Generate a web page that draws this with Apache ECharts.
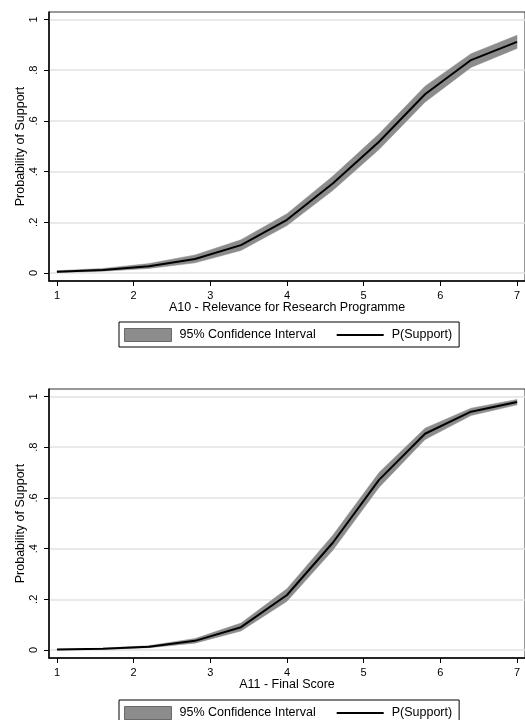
<!DOCTYPE html>
<html><head><meta charset="utf-8">
<script src="https://cdn.jsdelivr.net/npm/echarts@6/dist/echarts.min.js"></script>
<style>html,body{margin:0;padding:0;background:#fff}#c{width:525px;height:720px}</style>
</head><body><div id="c"></div>
<script>
const xValues = [1, 1.6, 2.2, 2.8, 3.4, 4.0, 4.6, 5.2, 5.8, 6.4, 7.0];
const a10Prob  = [0.005, 0.012, 0.027, 0.055, 0.110, 0.210, 0.354, 0.518, 0.705, 0.840, 0.912];
const a10Lower = [0.002, 0.007, 0.018, 0.040, 0.089, 0.187, 0.326, 0.487, 0.674, 0.811, 0.886];
const a10Upper = [0.009, 0.018, 0.037, 0.071, 0.131, 0.234, 0.383, 0.549, 0.737, 0.865, 0.938];
const a11Prob  = [0.002, 0.005, 0.013, 0.036, 0.090, 0.217, 0.424, 0.671, 0.853, 0.940, 0.978];
const a11Lower = [0.001, 0.003, 0.009, 0.027, 0.075, 0.192, 0.394, 0.641, 0.830, 0.925, 0.967];
const a11Upper = [0.003, 0.007, 0.017, 0.045, 0.106, 0.242, 0.454, 0.700, 0.875, 0.954, 0.988];
const xTicks = [1, 2, 3, 4, 5, 6, 7];
const yTicks = [0, 0.2, 0.4, 0.6, 0.8, 1];
const xTitles = ['A10 - Relevance for Research Programme', 'A11 - Final Score'];
const yTitle = 'Probability of Support';
const ciName = '95% Confidence Interval';
const lineName = 'P(Support)';

const FONT = 'Liberation Sans, Arial, sans-serif';
const BAND = '#8c8c8c';
const chart = echarts.init(document.getElementById('c'), null, {renderer: 'canvas'});

function pairs(vals) { return xValues.map((x, i) => [x, vals[i]]); }
function yFmt(v) {
  if (Math.abs(v) < 1e-9) return '0';
  if (Math.abs(v - 1) < 1e-9) return '1';
  return String(Math.round(v * 10) / 10).replace(/^0/, '');
}
function bandRender(params, api) {
  if (params.dataIndex !== 0) return null;
  const n = params.dataInsideLength !== undefined ? params.dataInsideLength : xValues.length;
  const upperPts = [], lowerPts = [];
  for (let k = 0; k < n; k++) {
    const x = api.value(0, k);
    lowerPts.push(api.coord([x, api.value(1, k)]));
    upperPts.push(api.coord([x, api.value(2, k)]));
  }
  const pts = lowerPts.concat(upperPts.reverse());
  return {type: 'polygon', shape: {points: pts},
    style: {fill: BAND, stroke: BAND, lineWidth: 0.5},
    clipPath: {type: 'rect', shape: {x: params.coordSys.x, y: params.coordSys.y,
      width: params.coordSys.width, height: params.coordSys.height}}};
}

const panels = [
  {top: 12, prob: a10Prob, lower: a10Lower, upper: a10Upper, legendTop: 322},
  {top: 389, prob: a11Prob, lower: a11Lower, upper: a11Upper, legendTop: 700}
];

const grid = [], xAxis = [], yAxis = [], series = [], legend = [];
panels.forEach((p, i) => {
  grid.push({left: 49, top: p.top, width: 479.3, height: 269, show: true,
    borderColor: '#333', borderWidth: 1, backgroundColor: '#fff', containLabel: false});
  xAxis.push({type: 'value', gridIndex: i, min: 0.896, max: 7.104,
    name: xTitles[i], nameLocation: 'middle', nameGap: 20, nameMoveOverlap: false,
    nameTextStyle: {fontFamily: FONT, fontSize: 12.5, color: '#000'},
    axisLine: {show: true, onZero: false, lineStyle: {color: '#000', width: 1.5}},
    axisTick: {show: true, length: 5, inside: false, customValues: xTicks, lineStyle: {color: '#000', width: 1}},
    axisLabel: {show: true, customValues: xTicks, margin: 9, fontFamily: FONT, fontSize: 11, color: '#000',
      formatter: v => String(v)},
    splitLine: {show: false}
  });
  yAxis.push({type: 'value', gridIndex: i, min: -0.0316, max: 1.0296,
    name: yTitle, nameLocation: 'middle', nameGap: 22, nameRotate: 90, nameMoveOverlap: false,
    nameTextStyle: {fontFamily: FONT, fontSize: 12.5, color: '#000'},
    axisLine: {show: true, onZero: false, lineStyle: {color: '#000', width: 1.5}},
    axisTick: {show: true, length: 5, inside: false, customValues: yTicks, lineStyle: {color: '#000', width: 1}},
    axisLabel: {show: true, customValues: yTicks, rotate: 90, margin: 10, fontFamily: FONT, fontSize: 11, color: '#000',
      formatter: yFmt},
    splitLine: {show: true, lineStyle: {color: '#e2e2e2', width: 1.5}}
  });
  series.push({type: 'custom', name: ciName, xAxisIndex: i, yAxisIndex: i,
    data: xValues.map((x, k) => [x, p.lower[k], p.upper[k]]),
    encode: {x: 0, y: [1, 2]}, renderItem: bandRender, itemStyle: {color: BAND},
    z: 2, animation: false, silent: true});
  series.push({type: 'line', name: lineName, xAxisIndex: i, yAxisIndex: i,
    data: pairs(p.prob), symbol: 'none', itemStyle: {color: '#000'},
    lineStyle: {color: '#000', width: 2}, z: 3, animation: false});
  legend.push({orient: 'horizontal', left: 119, top: p.legendTop,
    itemWidth: 47, itemHeight: 13, itemGap: 20, padding: [6, 7, 5, 5],
    borderColor: '#000', borderWidth: 1, selectedMode: false,
    textStyle: {fontFamily: FONT, fontSize: 12.5, color: '#000', padding: [0, 0, 0, 3]},
    data: [
      {name: ciName, icon: 'rect', itemStyle: {color: BAND, borderColor: '#6a6a6a', borderWidth: 1}},
      {name: lineName, itemStyle: {opacity: 0}, lineStyle: {color: '#000', width: 2}}
    ]
  });
});

chart.setOption({
  backgroundColor: '#fff',
  animation: false,
  grid, xAxis, yAxis, series, legend
});
</script>
</body></html>
